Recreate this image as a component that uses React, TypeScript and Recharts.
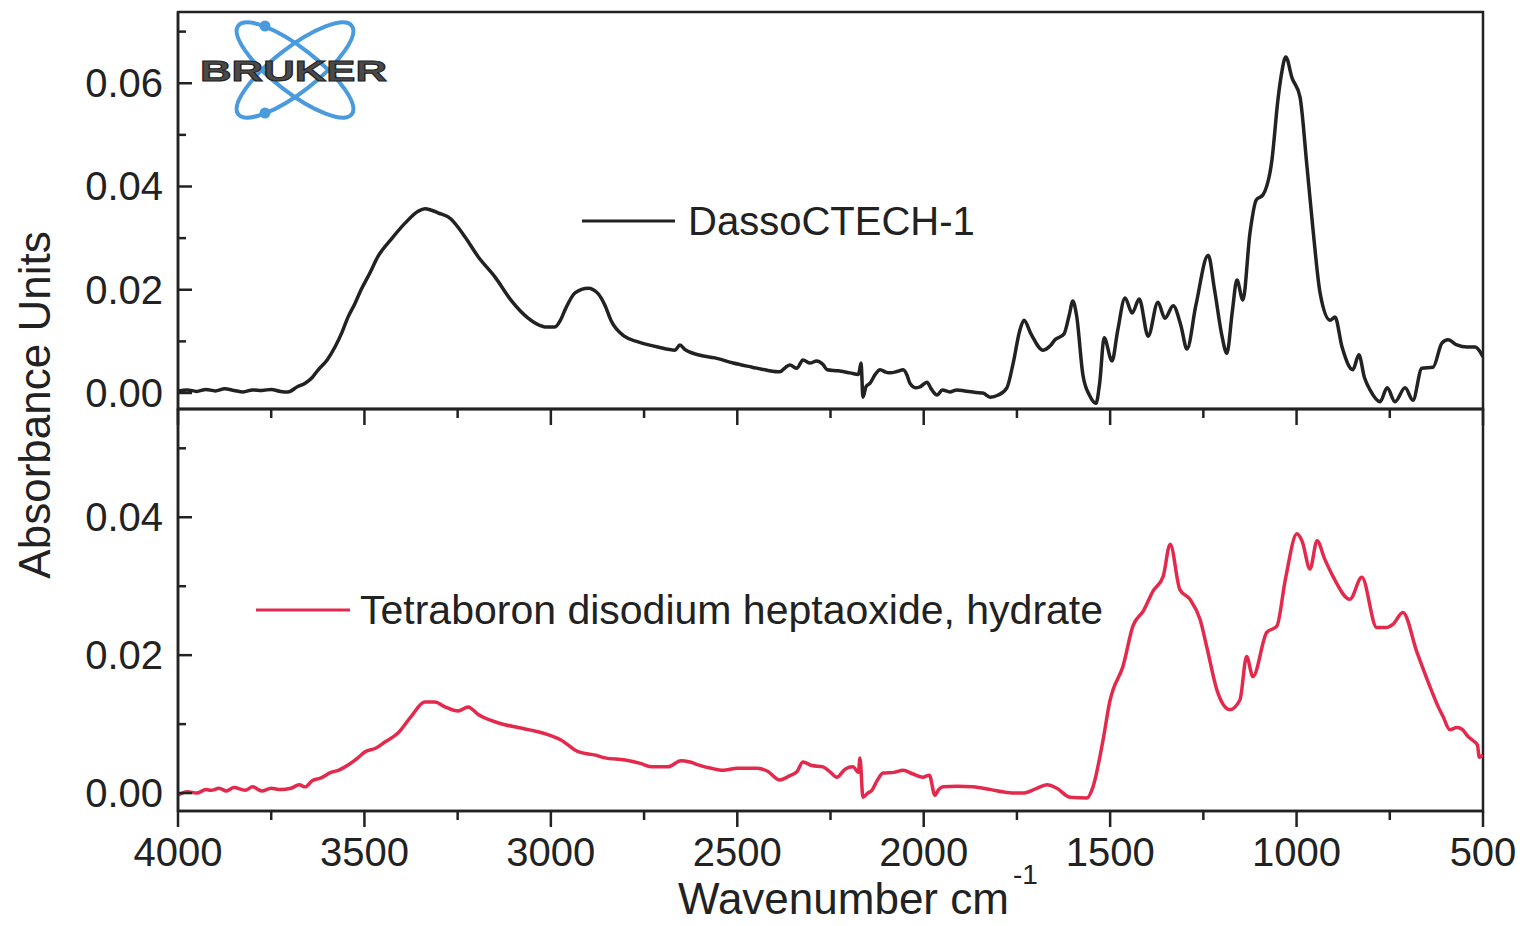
import React from 'react'
import { LineChart, Line, XAxis, YAxis, ReferenceArea } from 'recharts'

// wavenumber (cm-1) / absorbance pairs
const dassoWavenumbers = [
  4000, 3975, 3950, 3925, 3900, 3875, 3850, 3825, 3800, 3775, 3750, 3725, 3705, 3680, 3659, 3640,
  3624, 3600, 3579, 3560, 3544, 3525, 3509, 3485, 3464, 3429, 3391, 3356, 3338, 3320, 3303, 3268,
  3250, 3230, 3195, 3150, 3107, 3061, 3030, 3016, 2989, 2975, 2962, 2935, 2900, 2874, 2855, 2839,
  2801, 2766, 2713, 2667, 2654, 2640, 2605, 2560, 2511, 2460, 2420, 2386, 2370, 2359, 2340, 2324,
  2305, 2287, 2270, 2259, 2230, 2198, 2175, 2168, 2163, 2155, 2144, 2130, 2117, 2100, 2090, 2070,
  2055, 2045, 2037, 2020, 2010, 1991, 1980, 1964, 1950, 1930, 1911, 1890, 1860, 1841, 1822, 1800,
  1777, 1760, 1742, 1731, 1712, 1680, 1660, 1648, 1624, 1610, 1600, 1590, 1573, 1555, 1538, 1528,
  1516, 1495, 1480, 1460, 1441, 1422, 1398, 1372, 1353, 1331, 1310, 1294, 1270, 1237, 1220, 1200,
  1187, 1172, 1160, 1144, 1125, 1108, 1090, 1066, 1050, 1040, 1029, 1012, 991, 972, 955, 937,
  910, 897, 878, 849, 833, 818, 803, 776, 757, 736, 709, 688, 664, 634, 610, 594,
  570, 543, 521, 503, 500,
]
const dassoAbsorbance = [
  0.0004, 0.0006, 0.0003, 0.0007, 0.0004, 0.0008, 0.0005, 0.0002, 0.0006, 0.0005, 0.0007, 0.0003, 0.0002, 0.0012, 0.0019, 0.003,
  0.0045, 0.0064, 0.0089, 0.0118, 0.0147, 0.0174, 0.02, 0.0233, 0.0264, 0.0297, 0.0329, 0.0352, 0.0357, 0.0354, 0.0349, 0.0337,
  0.0322, 0.0302, 0.0264, 0.0225, 0.018, 0.0145, 0.0131, 0.0128, 0.0128, 0.014, 0.0161, 0.0194, 0.0203, 0.0193, 0.017, 0.0141,
  0.0109, 0.0099, 0.0089, 0.0083, 0.0093, 0.0084, 0.0074, 0.0068, 0.0058, 0.005, 0.0044, 0.0041, 0.005, 0.0054, 0.0048, 0.0064,
  0.0058, 0.0062, 0.0055, 0.0045, 0.0043, 0.0039, 0.0036, 0.0058, -0.0008, 0.0012, 0.0019, 0.0036, 0.0045, 0.004, 0.0039, 0.0042,
  0.0045, 0.0035, 0.0019, 0.001, 0.0012, 0.0021, 0.0008, -0.0004, 0.0006, 0.0002, 0.0006, 0.0004, 0.0001, 0.0, -0.0008, -0.0004,
  0.001, 0.0058, 0.0122, 0.0141, 0.0114, 0.0083, 0.0092, 0.0103, 0.0114, 0.015, 0.0178, 0.015, 0.0035, -0.0005, -0.002, 0.002,
  0.0107, 0.0062, 0.012, 0.0184, 0.0155, 0.0182, 0.011, 0.0176, 0.0145, 0.0169, 0.013, 0.0085, 0.017, 0.0267, 0.02, 0.011,
  0.0077, 0.016, 0.0219, 0.018, 0.031, 0.0374, 0.0384, 0.0452, 0.0568, 0.062, 0.0651, 0.061, 0.0574, 0.0438, 0.031, 0.0194,
  0.0141, 0.0147, 0.0089, 0.0045, 0.0074, 0.003, 0.0006, -0.0017, 0.001, -0.0017, 0.001, -0.0014, 0.0048, 0.005, 0.0097, 0.0103,
  0.0093, 0.0089, 0.0089, 0.0074, 0.007,
]

const boraxWavenumbers = [
  4000, 3975, 3950, 3925, 3911, 3890, 3870, 3850, 3820, 3800, 3775, 3750, 3725, 3697, 3675, 3659,
  3640, 3616, 3590, 3570, 3552, 3520, 3498, 3470, 3445, 3410, 3375, 3338, 3311, 3284, 3249, 3222,
  3195, 3142, 3088, 3043, 3010, 2973, 2927, 2880, 2855, 2801, 2760, 2731, 2686, 2651, 2627, 2605,
  2570, 2538, 2500, 2447, 2420, 2386, 2360, 2340, 2324, 2300, 2270, 2250, 2233, 2210, 2190, 2175,
  2171, 2163, 2150, 2139, 2125, 2109, 2080, 2055, 2030, 2002, 1985, 1970, 1960, 1948, 1910, 1868,
  1820, 1777, 1734, 1700, 1669, 1643, 1608, 1562, 1546, 1519, 1500, 1492, 1466, 1439, 1410, 1385,
  1358, 1339, 1313, 1286, 1259, 1240, 1214, 1179, 1152, 1134, 1117, 1080, 1053, 1030, 999, 985,
  964, 945, 925, 903, 857, 825, 785, 760, 741, 715, 677, 642, 620, 607, 589, 570,
  555, 540, 529, 515, 510, 500,
]
const boraxAbsorbance = [
  -0.0003, 0.0002, 0.0, 0.0005, 0.0004, 0.0007, 0.0003, 0.0008, 0.0004, 0.0009, 0.0003, 0.0007, 0.0005, 0.0007, 0.0012, 0.0009,
  0.0018, 0.0022, 0.003, 0.0033, 0.0038, 0.005, 0.006, 0.0065, 0.0074, 0.0087, 0.0111, 0.0132, 0.0132, 0.0125, 0.0119, 0.0125,
  0.0114, 0.0102, 0.0095, 0.009, 0.0085, 0.0077, 0.006, 0.0055, 0.0051, 0.0048, 0.0043, 0.0038, 0.0038, 0.0047, 0.0045, 0.0041,
  0.0036, 0.0033, 0.0036, 0.0036, 0.0032, 0.0019, 0.0025, 0.0031, 0.0045, 0.004, 0.0038, 0.003, 0.0023, 0.0035, 0.0038, 0.003,
  0.0051, -0.0006, 0.0, 0.0004, 0.0018, 0.0029, 0.003, 0.0033, 0.0028, 0.0023, 0.0026, -0.0003, 0.0005, 0.0009, 0.001, 0.0009,
  0.0005, 0.0001, 0.0, 0.0006, 0.0012, 0.0007, -0.0006, -0.0007, 0.0009, 0.0077, 0.0135, 0.015, 0.0183, 0.0242, 0.0265, 0.0293,
  0.0314, 0.0361, 0.0295, 0.0281, 0.0252, 0.021, 0.015, 0.0121, 0.0135, 0.0198, 0.0169, 0.0233, 0.0242, 0.031, 0.0376, 0.0365,
  0.0325, 0.0366, 0.034, 0.0315, 0.0281, 0.0313, 0.024, 0.024, 0.0245, 0.0262, 0.0204, 0.0154, 0.0125, 0.0111, 0.0092, 0.0095,
  0.0092, 0.0082, 0.0077, 0.007, 0.0052, 0.0055,
]

const xTicks = [4000, 3750, 3500, 3250, 3000, 2750, 2500, 2250, 2000, 1750, 1500, 1250, 1000, 750, 500]
const topYTicks = [0, 0.01, 0.02, 0.03, 0.04, 0.05, 0.06, 0.07]
const bottomYTicks = [0, 0.01, 0.02, 0.03, 0.04, 0.05]

const dassoData = dassoWavenumbers.map((wn, i) => ({ wn, a: dassoAbsorbance[i] }))
const boraxData = boraxWavenumbers.map((wn, i) => ({ wn, a: boraxAbsorbance[i] }))

const FONT = '"Liberation Sans", Arial, sans-serif'
const INK = '#222'
const RED = '#e42a4c'

const XTick = (props: any) => {
  const { x, y, payload, showLabel } = props
  const major = payload.value % 500 === 0
  return (
    <g>
      <line x1={x} x2={x} y1={y} y2={y + (major ? 16 : 9)} stroke={INK} strokeWidth={2.5} />
      {showLabel && major && (
        <text x={x} y={y + 55} textAnchor='middle' fontFamily={FONT} fontSize={40} fill={INK}>
          {payload.value}
        </text>
      )}
    </g>
  )
}

const YTick = (props: any) => {
  const { x, y, payload } = props
  const major = Math.round(payload.value * 100) % 2 === 0
  return (
    <g>
      <line x1={x} x2={x + (major ? 14 : 8)} y1={y} y2={y} stroke={INK} strokeWidth={2.5} />
      {major && (
        <text x={x - 15} y={y} dy='0.35em' textAnchor='end' fontFamily={FONT} fontSize={40} fill={INK}>
          {payload.value.toFixed(2)}
        </text>
      )}
    </g>
  )
}

const Panel = (
  { data, color, height, top, xHeight, yDomain, yTicks, showXLabels }:
  { data: any[], color: string, height: number, top: number, xHeight: number, yDomain: number[], yTicks: number[], showXLabels: boolean }
) => (
  <div style={{ position: 'absolute', left: 0, top: 0 }}>
    <LineChart width={1524} height={height} data={data} margin={{ top, right: 41, bottom: 0, left: 0 }}>
      <XAxis
        type='number'
        dataKey='wn'
        domain={[500, 4000]}
        reversed
        allowDataOverflow
        ticks={xTicks}
        interval={0}
        height={xHeight}
        tickSize={0}
        tickMargin={0}
        tickLine={false}
        axisLine={{ stroke: INK, strokeWidth: 2.5 }}
        tick={(p: any) => <XTick {...p} showLabel={showXLabels} />}
      />
      <YAxis
        type='number'
        domain={yDomain}
        allowDataOverflow
        ticks={yTicks}
        interval={0}
        width={178}
        tickSize={0}
        tickMargin={0}
        tickLine={false}
        axisLine={{ stroke: INK, strokeWidth: 2.5 }}
        tick={(p: any) => <YTick {...p} />}
      />
      <ReferenceArea
        x1={4000}
        x2={500}
        y1={yDomain[0]}
        y2={yDomain[1]}
        fill='none'
        stroke={INK}
        strokeWidth={2.5}
        ifOverflow='visible'
      />
      <Line
        type='monotoneX'
        dataKey='a'
        stroke={color}
        strokeWidth={3.5}
        strokeLinejoin='round'
        dot={false}
        isAnimationActive={false}
      />
    </LineChart>
  </div>
)

const Overlay = () => (
  <svg
    width={1524}
    height={926}
    style={{ position: 'absolute', left: 0, top: 0, pointerEvents: 'none' }}
  >
    {/* logo */}
    <g fill='none' stroke='#4a9ade' strokeWidth={4}>
      <ellipse cx={295} cy={70} rx={72} ry={22} transform='rotate(38 295 70)' />
      <ellipse cx={295} cy={70} rx={72} ry={22} transform='rotate(-38 295 70)' />
    </g>
    <circle cx={265} cy={26} r={5.5} fill='#4a9ade' />
    <circle cx={265} cy={113} r={5.5} fill='#4a9ade' />
    <text
      x={200}
      y={81}
      textLength={187}
      lengthAdjust='spacingAndGlyphs'
      fontFamily={FONT}
      fontWeight={900}
      fontSize={30}
      fill='#4a4a4a'
      stroke='#222'
      strokeWidth={1}
    >
      BRUKER
    </text>

    {/* legends */}
    <line x1={582} x2={675} y1={221} y2={221} stroke={INK} strokeWidth={3} />
    <text x={688} y={235} fontFamily={FONT} fontSize={40} fill={INK}>DassoCTECH-1</text>
    <line x1={256} x2={350} y1={610} y2={610} stroke={RED} strokeWidth={3} />
    <text x={360} y={624} fontFamily={FONT} fontSize={41} fill={INK}>
      Tetraboron disodium heptaoxide, hydrate
    </text>

    {/* axis titles */}
    <text
      x={0}
      y={0}
      transform='translate(50 405) rotate(-90)'
      textAnchor='middle'
      fontFamily={FONT}
      fontSize={44}
      fill={INK}
    >
      Absorbance Units
    </text>
    <text x={678} y={914} fontFamily={FONT} fontSize={44} fill={INK}>
      Wavenumber cm<tspan dx={4} dy={-30} fontSize={28}>-1</tspan>
    </text>
  </svg>
)

const App = () => (
  <div style={{ position: 'absolute', left: 0, top: 0, width: 1524, height: 926, background: '#fff' }}>
    <Panel
      data={dassoData}
      color={INK}
      height={430}
      top={12}
      xHeight={21}
      yDomain={[-0.0031, 0.0738]}
      yTicks={topYTicks}
      showXLabels={false}
    />
    <Panel
      data={boraxData}
      color={RED}
      height={926}
      top={409}
      xHeight={115}
      yDomain={[-0.0026, 0.0557]}
      yTicks={bottomYTicks}
      showXLabels
    />
    <Overlay />
  </div>
)

export default App
